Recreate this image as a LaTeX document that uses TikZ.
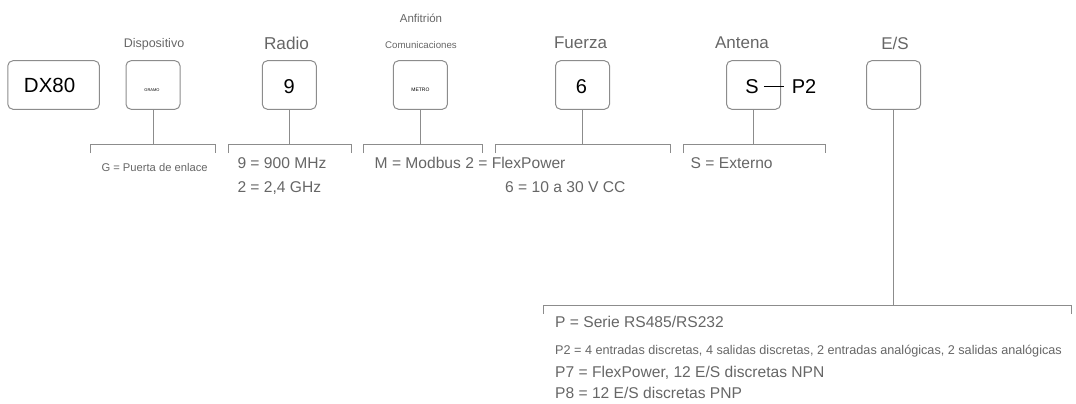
\documentclass[tikz,border=0pt]{standalone}
\usepackage{fontspec}
\setmainfont{Liberation Sans}
\definecolor{txt}{HTML}{666666}
\definecolor{ln}{HTML}{8C8C8C}
\newcommand{\fs}[1]{\fontsize{#1}{#1}\selectfont}
\newcommand{\dropt}[2]{\raisebox{-#1}[0pt][0pt]{#2}}
\tikzset{
  codebox/.style={draw=ln,line width=1pt,rounded corners=5pt,fill=white,minimum height=48.5pt,minimum width=54pt,inner sep=0pt,text=black,font=\fs{20}},
  head/.style={text=txt,inner sep=0pt,anchor=center},
  opt/.style={text=txt,inner sep=0pt,anchor=base west,font=\fs{15.6}},
  brk/.style={draw=ln,line width=1pt},
  conn/.style={draw=ln,line width=1pt}
}
\begin{document}
\begin{tikzpicture}[x=1pt,y=-1pt]
\useasboundingbox (0,0) rectangle (1076,404);
\node[codebox,minimum width=91.5pt] (dx) at (53.6,85) {\dropt{7.7pt}{\hspace*{-8pt}\fs{20.5}DX80}};
\node[codebox] (dev) at (153,85) {\dropt{6.5pt}{\hspace*{-2pt}\fs{4}GRAMO}};
\node[codebox] (rad) at (289.3,85) {\dropt{8pt}{9}};
\node[codebox] (com) at (420.4,85) {\dropt{6.5pt}{\fs{5}METRO}};
\node[codebox] (pow) at (582.5,85) {\dropt{8pt}{\hspace*{-2pt}6}};
\node[codebox] (ant) at (753.6,85) {};
\node[codebox] (ios) at (893.6,85) {};
\node[head,font=\fs{12.5}] (hdev) at (154,44) {Dispositivo};
\node[head,font=\fs{17.2}] (hrad) at (286.5,43) {Radio};
\node[head,font=\fs{11.5}] (hanf) at (421,18.5) {Anfitrión};
\node[head,font=\fs{9.7}] (hcom) at (421,45) {Comunicaciones};
\node[head,font=\fs{17}] (hpow) at (580.5,43) {Fuerza};
\node[head,font=\fs{17}] (hant) at (742,43) {Antena};
\node[head,font=\fs{17}] (hio) at (895,43) {E/S};
\node[inner sep=0pt,anchor=base,font=\fs{20}] (s) at (752,93) {S};
\node[inner sep=0pt,anchor=base,font=\fs{20}] (p2) at (804,93) {P2};
\draw[black,line width=0.8pt] (s.east)++(5,0.5) coordinate (sa) -- ++(20.5,0) coordinate (sb);
% brackets
\coordinate (b1l) at (90.7,144.5); \coordinate (b1r) at (215,144.5);
\coordinate (b2l) at (228,144.5); \coordinate (b2r) at (351,144.5);
\coordinate (b3l) at (363.5,144.5); \coordinate (b3r) at (482.5,144.5);
\coordinate (b4l) at (495,144.5); \coordinate (b4r) at (670.5,144.5);
\coordinate (b5l) at (683,144.5); \coordinate (b5r) at (825,144.5);
\coordinate (b6l) at (543.5,305); \coordinate (b6r) at (1071.5,305);
\foreach \a/\b in {b1l/b1r,b2l/b2r,b3l/b3r,b4l/b4r,b5l/b5r,b6l/b6r}{
  \draw[brk] ([yshift=-8.5pt]\a) -- (\a) -- (\b) -- ([yshift=-8.5pt]\b);
}
\draw[conn] (dev.south) -- (dev.south |- b1l);
\draw[conn] (rad.south) -- (rad.south |- b2l);
\draw[conn] (com.south) -- (com.south |- b3l);
\draw[conn] (pow.south) -- (pow.south |- b4l);
\draw[conn] (ant.south) -- (ant.south |- b5l);
\draw[conn] (ios.south) -- (ios.south |- b6l);
% options
\node[opt,font=\fs{11.2}] (o1) at (101.3,171) {G = Puerta de enlace};
\node[opt] (o2) at (237.3,168) {9 = 900 MHz};
\node[opt] (o3) at (237.3,192) {2 = 2,4 GHz};
\node[opt] (o4) at (374.5,168) {M = Modbus 2 = FlexPower};
\node[opt] (o5) at (505,192) {6 = 10 a 30 V CC};
\node[opt] (o6) at (690.5,168) {S = Externo};
\node[opt] (o7) at (555,327) {P = Serie RS485/RS232};
\node[opt,font=\fs{12.65}] (o8) at (555,354.5) {P2 = 4 entradas discretas, 4 salidas discretas, 2 entradas analógicas, 2 salidas analógicas};
\node[opt] (o9) at (555,377) {P7 = FlexPower, 12 E/S discretas NPN};
\node[opt] (o10) at (555,398.5) {P8 = 12 E/S discretas PNP};
\end{tikzpicture}
\end{document}
